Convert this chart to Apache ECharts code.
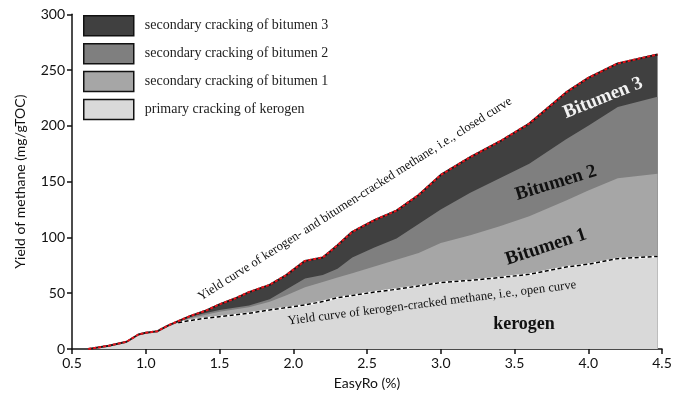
<!DOCTYPE html>
<html>
<head>
<meta charset="utf-8">
<script src="https://cdn.jsdelivr.net/npm/echarts@6/dist/echarts.min.js"></script>
<style>html,body{margin:0;padding:0;background:#fff;}#chart{width:684px;height:395px;}</style>
</head>
<body>
<div id="chart"></div>
<script>
// EasyRo (%) sample positions
const easyRo = [0.61,0.75,0.87,0.95,1.0,1.08,1.15,1.22,1.3,1.4,1.5,1.6,1.7,1.84,1.95,2.08,2.2,2.3,2.4,2.55,2.7,2.85,3.0,3.2,3.4,3.6,3.85,4.0,4.2,4.47];
// cumulative yields (mg/gTOC)
const kerogenTop  = [0,3,6.5,12,14,16,20,23.5,25.5,27.5,29,30.5,32,35,37,39.5,42.5,46,48,51,53.5,56.5,59.5,61.5,64,67,73.5,76,81,83];
const bitumen1Top = [0,3,6.5,12.5,14.2,16,20.5,24.5,27.5,30.5,33.5,35.5,37.5,42.4,48,55.3,60,64,68,74,80,86,95,102,110,119,133,142,153,157];
const bitumen2Top = [0,3,6.5,13,14.5,16,21,25,29,32,35,37,39,44.5,53,63.3,66.3,72,82,91,99,112,125,140,153,166,188,200,217,226];
const totalTop    = [0,3,6.5,13,14.5,16,21,25,29.5,34,40,45,51,57.5,66,79,82,93,105,115.5,124,138,156,172,186,202,230,243,256,264];
const xTicks = [0.5,1.0,1.5,2.0,2.5,3.0,3.5,4.0,4.5];
const yTicks = [0,50,100,150,200,250,300];
const legendNames = ['secondary cracking of bitumen 3','secondary cracking of bitumen 2','secondary cracking of bitumen 1','primary cracking of kerogen'];

const pairs = arr => easyRo.map((x,i)=>[x,arr[i]]);
const areaSeries = (name, arr, color) => ({
  name, type:'line', data:pairs(arr), symbol:'none', smooth:false,
  lineStyle:{width:0}, itemStyle:{color}, areaStyle:{color, opacity:1}, silent:true, z:2
});

const chart = echarts.init(document.getElementById('chart'));
const serif = '"Liberation Serif","Times New Roman",serif';
const sans = 'Lato, "Noto Sans", sans-serif';
chart.setOption({
  animation:false,
  grid:{left:72,right:22,top:14.3,bottom:46},
  legend:{
    orient:'vertical', left:83, top:15, padding:0, itemWidth:50, itemHeight:20, itemGap:6.4,
    icon:'rect', data:legendNames,
    itemStyle:{borderColor:'#111',borderWidth:1.5},
    textStyle:{fontFamily:serif,fontSize:14,color:'#222',padding:[0,0,0,6]},
    selectedMode:false
  },
  xAxis:{
    type:'value', min:0.5, max:4.5, interval:0.5,
    name:'EasyRo (%)', nameLocation:'middle', nameGap:27,
    nameTextStyle:{fontFamily:sans,fontSize:14,color:'#111'},
    axisLine:{lineStyle:{color:'#111',width:1.5}},
    axisTick:{show:true,length:5,lineStyle:{color:'#111',width:1.5}},
    axisLabel:{fontFamily:sans,fontSize:14,color:'#111',margin:7,
      formatter:v=>{const t=xTicks.find(k=>Math.abs(k-v)<1e-6);return t===undefined?'':t.toFixed(1);}},
    splitLine:{show:false}
  },
  yAxis:{
    type:'value', min:0, max:300, interval:50,
    name:'Yield of methane (mg/gTOC)', nameLocation:'middle', nameGap:45, nameRotate:90,
    nameTextStyle:{fontFamily:sans,fontSize:14,color:'#111'},
    axisLine:{show:true,lineStyle:{color:'#111',width:1.5}},
    axisTick:{show:true,length:5,lineStyle:{color:'#111',width:1.5}},
    axisLabel:{fontFamily:sans,fontSize:14,color:'#111',margin:7,
      formatter:v=>yTicks.includes(v)?String(v):''},
    splitLine:{show:false}
  },
  series:[
    areaSeries(legendNames[0], totalTop, '#404040'),
    areaSeries(legendNames[1], bitumen2Top, '#7f7f7f'),
    areaSeries(legendNames[2], bitumen1Top, '#a6a6a6'),
    areaSeries(legendNames[3], kerogenTop, '#d9d9d9'),
    {type:'line', data:pairs(kerogenTop).slice(7), symbol:'none', lineStyle:{color:'#fff',width:2}, silent:true, z:3},
    {type:'line', data:pairs(kerogenTop).slice(7), symbol:'none', lineStyle:{color:'#000',width:1.5,type:[4,2.5]}, silent:true, z:4},
    {type:'line', data:pairs(totalTop), symbol:'none', lineStyle:{color:'#1a1a1a',width:2}, silent:true, z:3},
    {type:'line', data:pairs(totalTop), symbol:'none', lineStyle:{color:'#e8141c',width:2,type:[3,2]}, silent:true, z:4}
  ],
  graphic:[
    {type:'text', x:355, y:199, rotation:32.4*Math.PI/180, z:10,
      style:{text:'Yield curve of kerogen- and bitumen-cracked methane, i.e., closed curve',
        font:'12.7px '+serif, fill:'#111', align:'center', verticalAlign:'middle'}},
    {type:'text', x:432, y:303, rotation:7.2*Math.PI/180, z:10,
      style:{text:'Yield curve of kerogen-cracked methane, i.e., open curve',
        font:'12.7px '+serif, fill:'#111', align:'center', verticalAlign:'middle'}},
    {type:'text', x:603, y:98, rotation:22*Math.PI/180, z:10,
      style:{text:'Bitumen 3', font:'bold 19px '+serif, fill:'#f2f2f2', align:'center', verticalAlign:'middle'}},
    {type:'text', x:556, y:183, rotation:17*Math.PI/180, z:10,
      style:{text:'Bitumen 2', font:'bold 19px '+serif, fill:'#111', align:'center', verticalAlign:'middle'}},
    {type:'text', x:546, y:247, rotation:18*Math.PI/180, z:10,
      style:{text:'Bitumen 1', font:'bold 19px '+serif, fill:'#111', align:'center', verticalAlign:'middle'}},
    {type:'text', x:524, y:324, z:10,
      style:{text:'kerogen', font:'bold 18px '+serif, fill:'#111', align:'center', verticalAlign:'middle'}}
  ]
});
</script>
</body>
</html>
